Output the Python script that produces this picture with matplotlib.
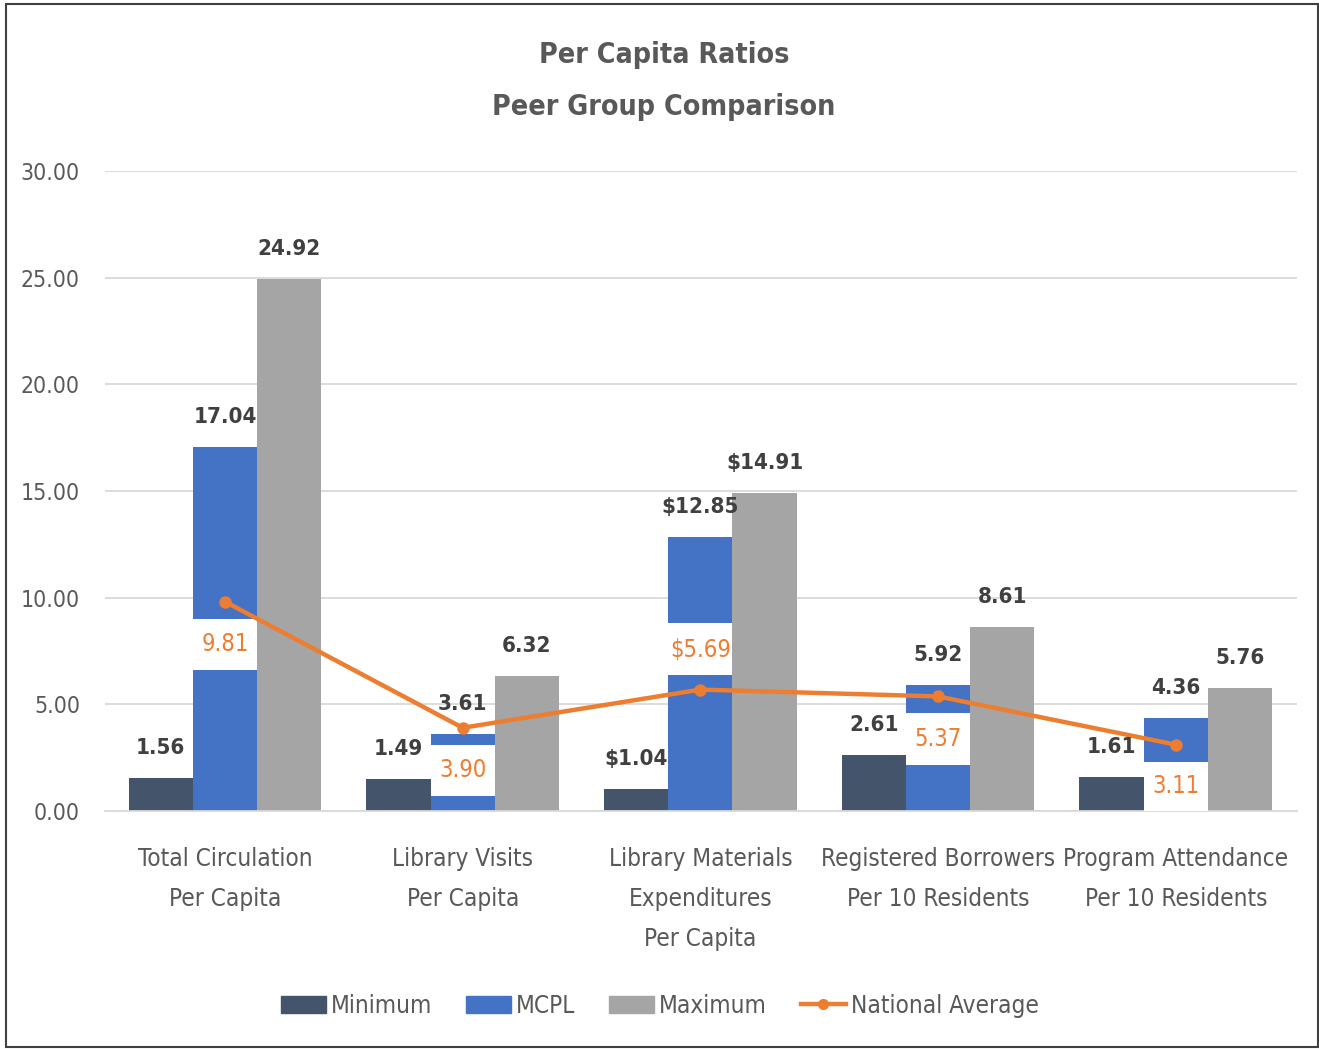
import matplotlib
matplotlib.use("Agg")
import matplotlib.pyplot as plt
from matplotlib.patches import Rectangle
from matplotlib.lines import Line2D
import numpy as np

plt.rcParams['font.family'] = ['DejaVu Sans']
plt.rcParams['font.stretch'] = 'condensed'

categories = [
    'Total Circulation\nPer Capita',
    'Library Visits\nPer Capita',
    'Library Materials\nExpenditures\nPer Capita',
    'Registered Borrowers\nPer 10 Residents',
    'Program Attendance\nPer 10 Residents',
]
minimum = [1.56, 1.49, 1.04, 2.61, 1.61]
mcpl = [17.04, 3.61, 12.85, 5.92, 4.36]
maximum = [24.92, 6.32, 14.91, 8.61, 5.76]
national = [9.81, 3.90, 5.69, 5.37, 3.11]
dollar = [False, False, True, False, False]
nat_label_side = ['below', 'below', 'above', 'below', 'below']

c_min = '#44546a'
c_mcpl = '#4472c4'
c_max = '#a5a5a5'
c_nat = '#ed7d31'
c_text = '#595959'
c_lab = '#404040'

fig = plt.figure(figsize=(13.19, 10.49), dpi=100)
ax = fig.add_axes([0.0796, 0.2269, 0.9037, 0.6101])

x = np.arange(len(categories))
w = 0.27

ax.bar(x - w, minimum, w, color=c_min, zorder=2, label='Minimum')
ax.bar(x, mcpl, w, color=c_mcpl, zorder=2, label='MCPL')
ax.bar(x + w, maximum, w, color=c_max, zorder=2, label='Maximum')


def fmt(v, d):
    return ('$%.2f' % v) if d else ('%.2f' % v)


for i in range(len(x)):
    for off, vals in ((-w, minimum), (0, mcpl), (w, maximum)):
        ax.annotate(fmt(vals[i], dollar[i]), (x[i] + off, vals[i]),
                    xytext=(0, 20), textcoords='offset pixels',
                    ha='center', va='bottom', fontsize=16,
                    fontweight='bold', color=c_lab, zorder=6)

# white boxes with the national average values
for i in range(len(x)):
    v = national[i]
    if nat_label_side[i] == 'below':
        top = v - 0.8
        bot = max(top - 2.4, 0)
    else:
        bot = v + 0.7
        top = bot + 2.4
    ax.add_patch(Rectangle((x[i] - w / 2, bot), w, top - bot,
                           facecolor='white', edgecolor='none', zorder=3))
    ax.text(x[i], (top + bot) / 2, fmt(v, dollar[i]), ha='center',
            va='center', fontsize=17, color=c_nat, zorder=6)

ax.plot(x, national, color=c_nat, lw=3.2, marker='o', markersize=8,
        zorder=4, label='National Average')

ax.set_xlim(-0.505, 4.51)
ax.set_ylim(0, 30)
ax.set_yticks(np.arange(0, 31, 5))
ax.set_yticklabels(['%.2f' % t for t in np.arange(0, 31, 5)])
ax.set_xticks(x)
ax.set_xticklabels(categories, linespacing=1.85)
ax.tick_params(axis='y', length=0, pad=18, labelsize=16.5, labelcolor=c_text)
ax.tick_params(axis='x', length=0, pad=26, labelsize=17.5, labelcolor=c_text)
for lab in ax.get_xticklabels():
    lab.set_verticalalignment('top')

ax.grid(axis='y', color='#d9d9d9', lw=1.3, zorder=0)
ax.set_axisbelow(True)
for s in ['top', 'right', 'left']:
    ax.spines[s].set_visible(False)
ax.spines['bottom'].set_color('#d9d9d9')
ax.spines['bottom'].set_linewidth(1.3)

fig.text(0.5035, 0.948, 'Per Capita Ratios', ha='center', va='center',
         fontsize=20.5, fontweight='bold', color=c_text)
fig.text(0.5035, 0.898, 'Peer Group Comparison', ha='center', va='center',
         fontsize=20.5, fontweight='bold', color=c_text)

handles = [
    Rectangle((0, 0), 1, 1, color=c_min),
    Rectangle((0, 0), 1, 1, color=c_mcpl),
    Rectangle((0, 0), 1, 1, color=c_max),
    Line2D([0], [0], color=c_nat, lw=3.2, marker='o', markersize=7),
]
fig.legend(handles, ['Minimum', 'MCPL', 'Maximum', 'National Average'],
           loc='center', bbox_to_anchor=(0.5, 0.041), ncol=4, frameon=False,
           fontsize=17.5, labelcolor=c_text, handlelength=1.85,
           handleheight=0.75, handletextpad=0.2, columnspacing=1.4)

fig.add_artist(Rectangle((0.0045, 0.002), 0.9945, 0.994,
                         transform=fig.transFigure, fill=False,
                         edgecolor='#404040', lw=1.5))

fig.savefig('out.png', dpi=100)
